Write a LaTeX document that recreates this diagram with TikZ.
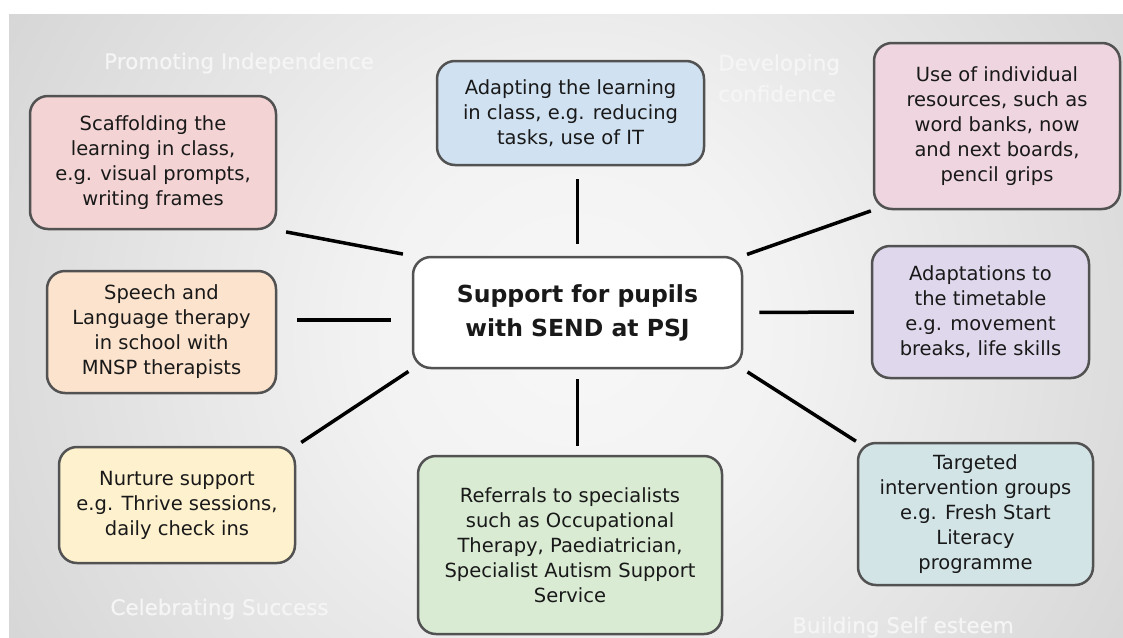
\documentclass[tikz,border=0pt]{standalone}
\usepackage{fontspec}
\setmainfont{DejaVu Sans}
\newfontfamily\themeface[FakeBold=0.6]{DejaVu Sans}
\usepackage{tikz}
\usetikzlibrary{calc}

\definecolor{scafpink}{HTML}{F3D3D3}
\definecolor{adaptblue}{HTML}{D0E1F1}
\definecolor{respink}{HTML}{EED5DF}
\definecolor{speechpeach}{HTML}{FBE3CD}
\definecolor{nurtureyellow}{HTML}{FEF1CE}
\definecolor{referalgreen}{HTML}{D9EBD3}
\definecolor{ttpurple}{HTML}{DFD7EB}
\definecolor{targetteal}{HTML}{D3E4E7}

\pgfdeclareradialshading{bgglow}{\pgfpoint{0bp}{0bp}}{%
  color(0bp)=(black!3); color(8bp)=(black!5); color(25bp)=(black!16);
  color(44bp)=(black!30); color(50bp)=(black!34)}

\newcommand{\itemfont}{\fontsize{19.5}{25}\selectfont}
\newcommand{\themefont}{\themeface\fontsize{21.5}{31}\selectfont}

\tikzset{
  item/.style={draw=black!68, line width=2.5pt, rounded corners=18pt,
    align=center, font=\itemfont, text=black!90, inner sep=0pt},
  link/.style={line width=3.5pt, black},
  theme/.style={text=white!96!black, font=\themefont, inner sep=0pt},
}

\begin{document}
\begin{tikzpicture}[x=1pt,y=-1pt]

\useasboundingbox (0,0) rectangle (1123,637);
\fill[white] (0,0) rectangle (1123,637);
\begin{scope}
\clip (9,14) rectangle (1123,637);
\shade[shading=bgglow] (-75,-320) rectangle (1225,980);
\end{scope}

% themes
\node[theme, anchor=base] (indep) at (239,69) {Promoting Independence};
\node[theme, anchor=north west, align=left] (confid) at (718,54) {Developing\\confidence};
\node[theme, anchor=base] (success) at (219.5,615) {Celebrating Success};
\node[theme, anchor=base] (esteem) at (903,633) {Building Self esteem};

% boxes
\node[item, fill=white, minimum width=329, minimum height=111,
  font=\fontsize{23.5}{34}\selectfont\bfseries] (mid) at (577.5,312.5)
  {Support for pupils\\with SEND at PSJ};

\node[item, fill=scafpink, minimum width=246, minimum height=133] (scaf) at (153,162.5)
  {Scaffolding the\\learning in class,\\e.g. visual prompts,\\writing frames};
\node[item, fill=adaptblue, minimum width=267, minimum height=104] (adapt) at (570.5,113)
  {Adapting the learning\\in class, e.g. reducing\\tasks, use of IT};
\node[item, fill=respink, minimum width=246, minimum height=166] (res) at (997,126)
  {Use of individual\\resources, such as\\word banks, now\\and next boards,\\pencil grips};
\node[item, fill=speechpeach, minimum width=229, minimum height=122] (speech) at (161.5,332)
  {Speech and\\Language therapy\\in school with\\MNSP therapists};
\node[item, fill=ttpurple, minimum width=217, minimum height=132] (tt) at (980.5,312)
  {Adaptations to\\the timetable\\e.g. movement\\breaks, life skills};
\node[item, fill=nurtureyellow, minimum width=236, minimum height=116] (nurture) at (177,505)
  {Nurture support\\e.g. Thrive sessions,\\daily check ins};
\node[item, fill=referalgreen, minimum width=304, minimum height=178] (refer) at (570,545)
  {Referrals to specialists\\such as Occupational\\Therapy, Paediatrician,\\Specialist Autism Support\\Service};
\node[item, fill=targetteal, minimum width=235, minimum height=142] (target) at (975.5,514)
  {Targeted\\intervention groups\\e.g. Fresh Start\\Literacy\\programme};

% spokes
\draw[link, shorten <=9pt, shorten >=9pt] (scaf.south east) -- (mid.north west);
\draw[link, shorten <=13pt, shorten >=12pt] (mid.north |- adapt.south) -- (mid.north);
\draw[link, shorten <=4pt, shorten >=2pt] (mid.north east) -- (res.south west);
\draw[link, shorten <=20pt, shorten >=21pt] ([yshift=12pt]speech.east) -- ([yshift=12pt]speech.east -| mid.west);
\draw[link, shorten <=16pt, shorten >=17pt] (mid.east) -- (tt.west);
\draw[link, shorten <=4pt, shorten >=6pt] (mid.south west) -- (nurture.north east);
\draw[link, shorten <=10pt, shorten >=9pt] (mid.south) -- (mid.south |- refer.north);
\draw[link, shorten <=5pt, shorten >=1pt] (mid.south east) -- (target.north west);

\end{tikzpicture}
\end{document}
